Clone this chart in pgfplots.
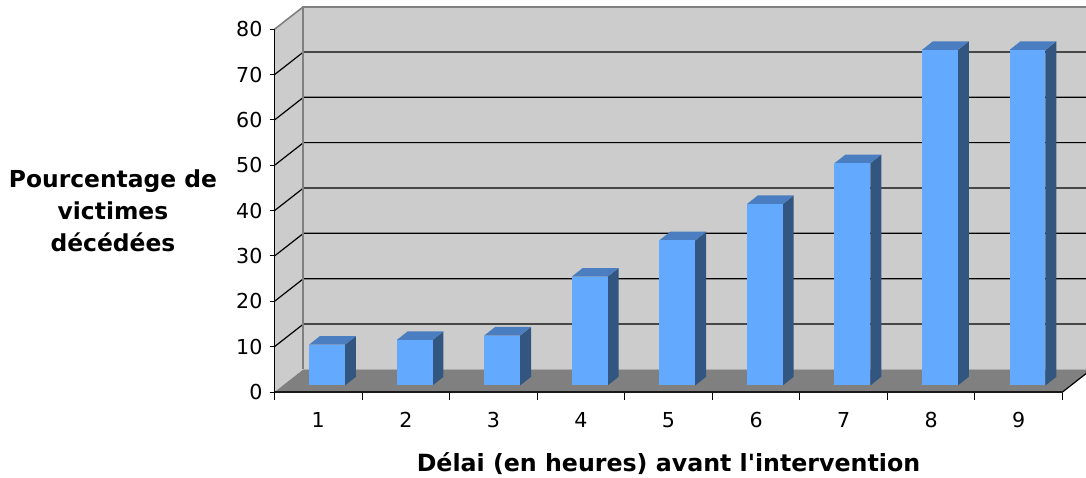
\documentclass[border=0pt]{standalone}
\usepackage{pgfplots}
\pgfplotsset{compat=1.18}
\usepackage{fontspec}
\setmainfont{DejaVu Sans}
\definecolor{barfront}{RGB}{99,170,255}
\definecolor{bartop}{RGB}{74,126,193}
\definecolor{barside}{RGB}{51,86,128}
\definecolor{wall}{RGB}{204,204,204}
\definecolor{floorc}{RGB}{128,128,128}
\definecolor{edgec}{RGB}{128,128,128}
% one 3D column: #1 = category position, #2 = value (percentage)
\newcommand{\threedbar}[2]{%
  \pgfmathsetmacro{\xl}{#1+0.1-0.205}%
  \pgfmathsetmacro{\xr}{#1+0.1+0.205}%
  \pgfmathsetmacro{\xll}{\xl+0.125}%
  \pgfmathsetmacro{\xrr}{\xr+0.125}%
  \pgfmathsetmacro{\yb}{1.45}%
  \pgfmathsetmacro{\yt}{1.45+#2}%
  \pgfmathsetmacro{\ybb}{\yb+1.9}%
  \pgfmathsetmacro{\ytt}{\yt+1.9}%
  \edef\tmpbar{%
    \noexpand\addplot[fill=barside,draw=none,mark=none] coordinates {(\xr,\yb) (\xrr,\ybb) (\xrr,\ytt) (\xr,\yt)};
    \noexpand\addplot[fill=bartop,draw=none,mark=none] coordinates {(\xl,\yt) (\xr,\yt) (\xrr,\ytt) (\xll,\ytt)};
    \noexpand\addplot[fill=barfront,draw=none,mark=none] coordinates {(\xl,\yb) (\xr,\yb) (\xr,\yt) (\xl,\yt)};
  }\tmpbar}
\begin{document}
\begin{tikzpicture}
\path[use as bounding box] (0,0) rectangle (543pt,238.5pt);
\clip (0,0) rectangle (543pt,238.5pt);
\begin{axis}[
  at={(137.25pt,42.5pt)}, anchor=south west,
  scale only axis, width=394pt, height=181.35pt,
  xmin=0.5, xmax=9.5, ymin=0, ymax=80,
  clip=false, axis on top=true,
  axis x line*=bottom, axis y line*=left,
  x axis line style={-, line width=1pt, draw=black!90},
  y axis line style={-, line width=0.5pt, draw=black},
  xtick={1,2,...,9},
  minor xtick={0.5,1.5,...,9.5},
  major x tick style={draw=none},
  ytick={0,10,...,80},
  tick align=outside,
  major tick length=2.5pt,
  minor tick length=4pt,
  tick style={black, line width=0.5pt},
  /pgf/number format/assume math mode=true,
  ticklabel style={font=\fontsize{10.3}{12}\selectfont},
  xticklabel style={yshift=-4pt},
  every axis y label/.style={at={(axis description cs:-0.205,0.5)}, anchor=center, align=center, font=\fontsize{11.7}{16}\selectfont\bfseries},
  every axis x label/.style={at={(axis description cs:0.5,-0.196)}, anchor=center, font=\fontsize{11.85}{14}\selectfont\bfseries},
  ylabel={Pourcentage de\\victimes\\décédées},
  xlabel={Délai (en heures) avant l\textquotesingle intervention},
]
% walls and floor
\addplot[fill=wall,draw=none,mark=none] coordinates {(0.5,0) (0.831,5) (0.831,85) (0.5,80)};
\addplot[fill=wall,draw=none,mark=none] coordinates {(0.831,5) (9.831,5) (9.831,85) (0.831,85)};
\addplot[fill=floorc,draw=none,mark=none] coordinates {(0.5,0) (9.5,0) (9.831,5) (0.831,5)};
% gridlines
\addplot[black,line width=0.6pt,mark=none] coordinates {(0.5,10) (0.831,15) (9.831,15)};
\addplot[black,line width=0.6pt,mark=none] coordinates {(0.5,20) (0.831,25) (9.831,25)};
\addplot[black,line width=0.6pt,mark=none] coordinates {(0.5,30) (0.831,35) (9.831,35)};
\addplot[black,line width=0.6pt,mark=none] coordinates {(0.5,40) (0.831,45) (9.831,45)};
\addplot[black,line width=0.6pt,mark=none] coordinates {(0.5,50) (0.831,55) (9.831,55)};
\addplot[black,line width=0.6pt,mark=none] coordinates {(0.5,60) (0.831,65) (9.831,65)};
\addplot[black,line width=0.6pt,mark=none] coordinates {(0.5,70) (0.831,75) (9.831,75)};
% wall edges
\addplot[edgec,line width=1pt,mark=none] coordinates {(0.831,5) (0.831,85) (9.831,85)};
\addplot[edgec,line width=0.8pt,mark=none] coordinates {(0.5,80) (0.831,85)};
\addplot[black,line width=0.6pt,mark=none] coordinates {(9.5,0) (9.831,5)};
% columns
\threedbar{1}{9}
\threedbar{2}{10}
\threedbar{3}{11}
\threedbar{4}{24}
\threedbar{5}{32}
\threedbar{6}{40}
\threedbar{7}{49}
\threedbar{8}{74}
\threedbar{9}{74}
\end{axis}
\end{tikzpicture}
\end{document}
